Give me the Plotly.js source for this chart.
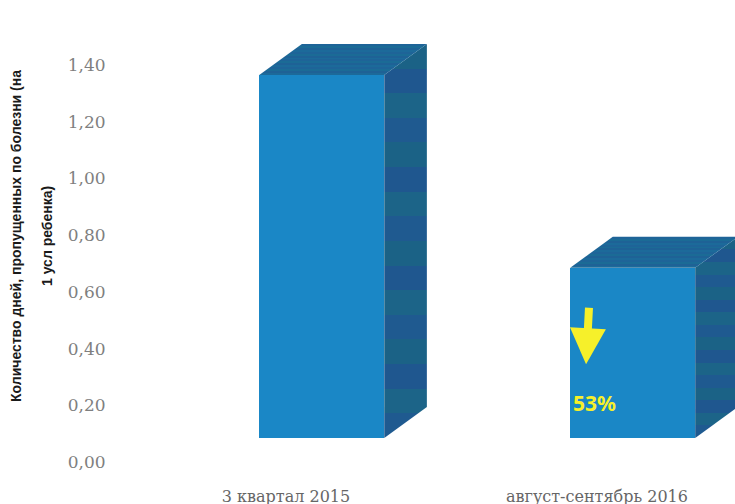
<!DOCTYPE html>
<html>
<head>
<meta charset="utf-8">
<script src="https://cdn.plot.ly/plotly-3.0.1.min.js"></script>
<style>html,body{margin:0;padding:0;background:#fff}</style>
</head>
<body>
<div id="chart" style="width:735px;height:504px"></div>
<script>
// Sick days per child, shown as extruded columns
const categories = ['3 квартал 2015', 'август-сентябрь 2016'];
const positions = [0, 1];
const values = [1.28, 0.60];
const yTicks = [0, 0.2, 0.4, 0.6, 0.8, 1.0, 1.2, 1.4];

// Column geometry in axis units
const floorLift = 0.085;
const barOffset = -0.086;
const barWidth = 0.402;
const depthX = 0.137;
const depthY = 0.109;

const frontColor = '#1a87c6';
const sideBands = ['#1f5a90', '#1c6488', '#1f578f', '#1b6286'];
const topBands = ['#1c6a9a', '#1e6296', '#1b6b96', '#1e6498'];

function bandScale(colors) {
  const n = colors.length * 4;
  const out = [];
  for (let i = 0; i < n; i++) {
    const c = colors[i % colors.length];
    out.push([i / n, c], [(i + 1) / n, c]);
  }
  return out;
}

const traces = [{
  type: 'bar',
  x: positions,
  y: values,
  base: floorLift,
  width: barWidth,
  offset: barOffset,
  marker: {color: frontColor, line: {width: 0}},
  hoverinfo: 'skip',
  showlegend: false
}];

values.forEach((v, i) => {
  const left = positions[i] + barOffset;
  const right = left + barWidth;
  const top = floorLift + v;
  traces.push({
    type: 'scatter', mode: 'none', fill: 'toself',
    x: [right, right + depthX, right + depthX, right, right],
    y: [floorLift, floorLift + depthY, top + depthY, top, floorLift],
    fillgradient: {type: 'vertical', colorscale: bandScale(sideBands)},
    hoverinfo: 'skip', showlegend: false
  });
  traces.push({
    type: 'scatter', mode: 'none', fill: 'toself',
    x: [left, left + depthX, right + depthX, right, left],
    y: [top, top + depthY, top + depthY, top, top],
    fillgradient: {type: 'vertical', colorscale: bandScale(topBands)},
    hoverinfo: 'skip', showlegend: false
  });
});

const titleFont = {family: 'Liberation Sans, Arial, sans-serif', size: 14, color: '#1a1a1a', weight: 700};

const layout = {
  width: 735,
  height: 504,
  margin: {l: 115, r: 0, t: 10, b: 42},
  paper_bgcolor: '#ffffff',
  plot_bgcolor: '#ffffff',
  separators: ', ',
  showlegend: false,
  bargap: 0,
  xaxis: {
    range: [-0.55, 1.444],
    tickmode: 'array',
    tickvals: positions,
    ticktext: categories,
    ticks: 'outside',
    ticklen: 20,
    tickcolor: 'rgba(0,0,0,0)',
    showgrid: false,
    zeroline: false,
    showline: false,
    tickfont: {family: 'DejaVu Serif, serif', size: 16, color: '#666666'}
  },
  yaxis: {
    range: [0, 1.594],
    tickmode: 'array',
    tickvals: yTicks,
    tickformat: '.2f',
    ticks: 'outside',
    ticklen: 5,
    tickcolor: 'rgba(0,0,0,0)',
    showgrid: false,
    zeroline: false,
    showline: false,
    tickfont: {family: 'DejaVu Serif, serif', size: 17, color: '#7f7f7f'},
    title: {text: 'Количество дней, пропущенных по болезни (на', font: titleFont, standoff: 42}
  },
  annotations: [
    {
      text: '1 усл ребенка)',
      textangle: -90,
      xref: 'paper', yref: 'paper',
      x: 0, y: 0.5, xanchor: 'center', yanchor: 'middle',
      xshift: -68,
      showarrow: false,
      font: titleFont
    },
    {
      text: '<b>53%</b>',
      x: 0.916, y: 0.208, xanchor: 'left', yanchor: 'middle',
      showarrow: false,
      font: {family: 'Noto Sans, sans-serif', size: 21, color: '#f6f02a'}
    },
    {
      x: 0.965, y: 0.345,
      ax: 3, ay: -58,
      text: '',
      showarrow: true,
      arrowhead: 2,
      arrowsize: 0.9,
      arrowwidth: 8,
      arrowcolor: '#f6f02a'
    }
  ]
};

Plotly.newPlot('chart', traces, layout, {displayModeBar: false, staticPlot: true});
</script>
</body>
</html>
